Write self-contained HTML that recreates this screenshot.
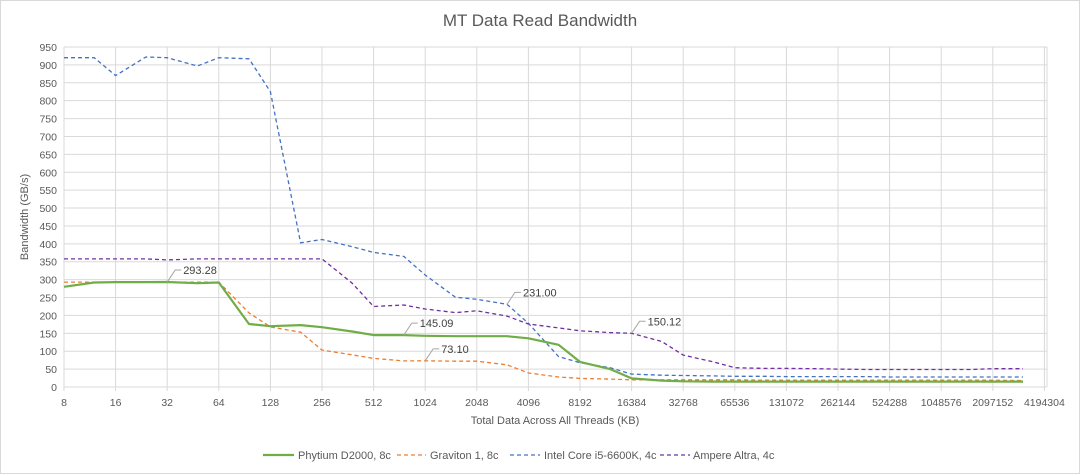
<!DOCTYPE html>
<html><head><meta charset="utf-8"><style>
body{margin:0;background:#fff;}
svg{display:block;font-family:"Liberation Sans",sans-serif;}
</style></head><body>
<svg id="chart" width="1080" height="474" xmlns="http://www.w3.org/2000/svg">
<rect x="0.5" y="0.5" width="1079" height="473" fill="#fff" stroke="#d9d9d9"/>
<text x="540" y="26" text-anchor="middle" font-size="17" fill="#595959">MT Data Read Bandwidth</text>
<g id="grid"></g>
<g id="series"></g>
<g id="labels"></g>
<text transform="translate(28,217) rotate(-90)" text-anchor="middle" font-size="11" fill="#595959">Bandwidth (GB/s)</text>
<text x="555" y="424" text-anchor="middle" font-size="11" fill="#595959">Total Data Across All Threads (KB)</text>
<g font-size="11" fill="#595959">
<g><line x1="263" y1="455" x2="294" y2="455" stroke="#70ad47" stroke-width="2.2"/><text x="298" y="459">Phytium D2000, 8c</text></g>
<g><line x1="397" y1="455" x2="426" y2="455" stroke="#ed7d31" stroke-width="1.3" stroke-dasharray="4,3"/><text x="430" y="459">Graviton 1, 8c</text></g>
<g><line x1="510" y1="455" x2="540" y2="455" stroke="#4472c4" stroke-width="1.3" stroke-dasharray="4,3"/><text x="544" y="459">Intel Core i5-6600K, 4c</text></g>
<g><line x1="660" y1="455" x2="690" y2="455" stroke="#7030a0" stroke-width="1.3" stroke-dasharray="4,3"/><text x="693" y="459">Ampere Altra, 4c</text></g>
</g>
</svg>
<script>
const sizesKB=[8,12,16,24,32,48,64,96,128,192,256,384,512,768,1024,1536,2048,3072,4096,6144,8192,12288,16384,24576,32768,49152,65536,98304,131072,196608,262144,393216,524288,786432,1048576,1572864,2097152,3145728];
const tickLabels=["8","16","32","64","128","256","512","1024","2048","4096","8192","16384","32768","65536","131072","262144","524288","1048576","2097152","4194304"];
const yTicks=[0,50,100,150,200,250,300,350,400,450,500,550,600,650,700,750,800,850,900,950];
const phytium=[280,292,293,293,293.28,290,292,176,170,173,167,155,145,145.09,143,142,142,142,136,118,70,50,24,18,16,15,15,15,15,15,15,15,15,15,15,15,15,15];
const graviton=[293,293,293,293,293,293,293,207,168,153,103,90,80,73,73.10,72,72,62,39,28,24,22,20,20,20,20,20,19,19,19,19,19,19,19,19,19,19,18];
const intel=[920,920,870,922,920,897,920,917,825,403,412,392,376,365,313,251,245,231.00,178,85,68,54,36,33,32,31,30,30,29,29,29,29,28,28,28,28,28,28];
const ampere=[358,358,358,358,355,358,358,358,358,358,358,290,225,229,218,208,213,198,176,165,157,152,150.12,127,89,70,54,52,52,51,50,49,49,49,49,49,51,51];
const X0=64,XW=51.6,Y0=387,YK=340/950,XR=1047;
const xs=kb=>X0+(Math.log2(kb)-3)*XW;
const ys=v=>Y0-v*YK;
const NS="http://www.w3.org/2000/svg";
function mk(tag,attrs,parent){const e=document.createElementNS(NS,tag);for(const k in attrs)e.setAttribute(k,attrs[k]);parent.appendChild(e);return e;}
const grid=document.getElementById('grid'),ser=document.getElementById('series'),lab=document.getElementById('labels');
yTicks.forEach(t=>{
  const l=mk('line',{x1:X0,x2:XR,y1:ys(t),y2:ys(t),stroke:'#d9d9d9','stroke-width':1},grid);
  
  
  const tx=mk('text',{x:57,y:ys(t)+4,'text-anchor':'end','font-size':10.5,fill:'#595959'},grid);
  tx.textContent=t;
  
  
});
tickLabels.forEach(t=>{
  const x=xs(+t);
  const l=mk('line',{x1:x,x2:x,y1:ys(950),y2:Y0+4,stroke:'#d9d9d9','stroke-width':1},grid);
  
  
  const tx=mk('text',{x:x,y:406,'text-anchor':'middle','font-size':10.5,fill:'#595959'},grid);
  tx.textContent=t;
  
  
});
const xr=mk('line',{x1:XR,x2:XR,y1:ys(950),y2:Y0,stroke:'#d9d9d9'},grid);


function series(vals,color,dash,w,name){
  const pts=vals.map((v,i)=>xs(sizesKB[i]).toFixed(1)+','+ys(v).toFixed(1)).join(' ');
  const p=mk('polyline',{points:pts,fill:'none',stroke:color,'stroke-width':w,'stroke-dasharray':dash,'stroke-linejoin':'round'},ser);
  
  
}
series(graviton,'#ed7d31','4,3',1.3,'series-graviton');
series(intel,'#4472c4','4,3',1.3,'series-intel');
series(ampere,'#7030a0','4,3',1.3,'series-ampere');
series(phytium,'#70ad47','',2.2,'series-phytium');
function dlabel(vals,i,name){
  const x=xs(sizesKB[i]),y=ys(vals[i]);
  const l=mk('polyline',{points:`${x},${y} ${x+8},${y-12} ${x+14},${y-12}`,fill:'none',stroke:'#a6a6a6','stroke-width':1},lab);
  
  
  const t=mk('text',{x:x+16,y:y-8,'font-size':11,fill:'#404040'},lab);
  t.textContent=vals[i].toFixed(2);
  
  
}
dlabel(phytium,4,'label-phytium-peak');
dlabel(phytium,13,'label-phytium-l3');
dlabel(graviton,14,'label-graviton');
dlabel(intel,17,'label-intel');
dlabel(ampere,22,'label-ampere');
</script>
</body></html>
